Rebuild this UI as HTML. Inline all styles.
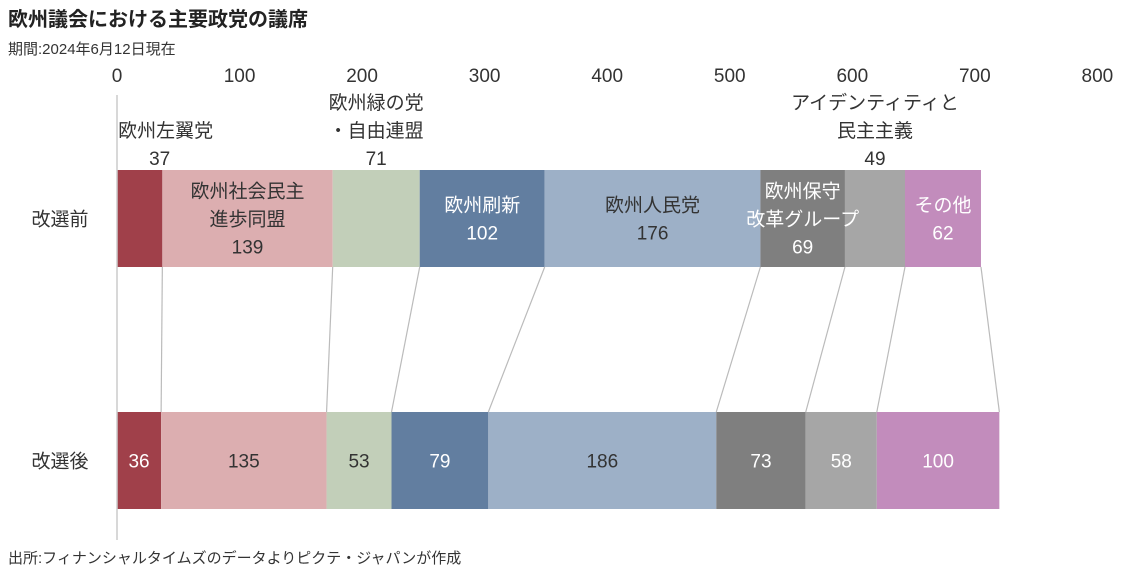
<!DOCTYPE html>
<html><head><meta charset="utf-8"><style>
body{margin:0;background:#fff;font-family:"Liberation Sans","Noto Sans CJK JP",sans-serif;}
svg text{font-family:"Liberation Sans","Noto Sans CJK JP",sans-serif;}
</style></head><body>
<svg id="c" width="1126" height="569" xmlns="http://www.w3.org/2000/svg">
<text x="8" y="26" font-size="20" font-weight="bold" fill="#222">欧州議会における主要政党の議席</text>
<text x="8" y="54" font-size="15" fill="#333">期間:2024年6月12日現在</text>
<text x="8" y="563" font-size="15" fill="#333">出所:フィナンシャルタイムズのデータよりピクテ・ジャパンが作成</text>
<g id="g"></g>
</svg>
<script>
const parties=["欧州左翼党","欧州社会民主進歩同盟","欧州緑の党・自由連盟","欧州刷新","欧州人民党","欧州保守改革グループ","アイデンティティと民主主義","その他"];
const before=[37,139,71,102,176,69,49,62];
const after=[36,135,53,79,186,73,58,100];
const ticks=[0,100,200,300,400,500,600,700,800];
const colors=["#a0404a","#dcaeb0","#c2cfb9","#627ea0","#9db0c7","#7f7f7f","#a6a6a6","#c28cbc"];
const textCol=["#fff","#333","#333","#fff","#333","#fff","#fff","#fff"];
const insideLabels=[null,["欧州社会民主","進歩同盟"],null,["欧州刷新"],["欧州人民党"],["欧州保守","改革グループ"],null,["その他"]];
const outsideLabels=[["欧州左翼党"],null,["欧州緑の党","・自由連盟"],null,null,null,["アイデンティティと","民主主義"],null];
const NS="http://www.w3.org/2000/svg";
const g=document.getElementById('g');
const x=v=>117+v*1.2255;
function el(t,a,txt){const e=document.createElementNS(NS,t);for(const k in a)e.setAttribute(k,a[k]);if(txt!=null)e.textContent=txt;g.appendChild(e);return e;}
ticks.forEach(t=>{const e=el('text',{x:x(t),y:82,'font-size':19,'text-anchor':'middle',fill:'#333'},t);

});
const y1=170,y2=412,h=97;
let c1=0,c2=0;
const labelJobs=[];
for(let i=0;i<parties.length;i++){
 const a0=c1,a1=c1+before[i],b0=c2,b1=c2+after[i];
 let r=el('rect',{x:x(a0),y:y1,width:x(a1)-x(a0),height:h,fill:colors[i]});
 
 
 r=el('rect',{x:x(b0),y:y2,width:x(b1)-x(b0),height:h,fill:colors[i]});
 
 
 const ln=el('line',{x1:x(a1),y1:y1+h,x2:x(b1),y2:y2,stroke:'#bbb','stroke-width':1.2});
 
 
 labelJobs.push([i,(x(a0)+x(a1))/2,(x(b0)+x(b1))/2]);
 c1=a1;c2=b1;
}
labelJobs.forEach(([i,ma,mb])=>{
 if(insideLabels[i]){
  const L=insideLabels[i];const n=L.length+1;const top=y1+h/2-(n-1)*14+7;
  L.concat([before[i]]).forEach((s,k)=>{const t=el('text',{x:ma,y:top+k*28,'font-size':19,'text-anchor':'middle',fill:textCol[i]},s);
  
  });
 } else {
  const L=outsideLabels[i].concat([before[i]]);const base=165-(L.length-1)*28;
  L.forEach((s,k)=>{const off=i==0?(k==L.length-1?20:26):0;
  const t=el('text',{x:ma+off,y:base+k*28,'font-size':19,'text-anchor':'middle',fill:'#333'},s);
  
  });
 }
 const t=el('text',{x:mb,y:y2+h/2+7,'font-size':19,'text-anchor':'middle',fill:textCol[i]},after[i]);
 
 
});
const ax=el('line',{x1:117,y1:95,x2:117,y2:540,stroke:'#ccc','stroke-width':1.5});


[["改選前",y1],["改選後",y2]].forEach(([s,y])=>{const t=el('text',{x:60,y:y+h/2+7,'font-size':19,'text-anchor':'middle',fill:'#333'},s);

});
</script>
</body></html>
